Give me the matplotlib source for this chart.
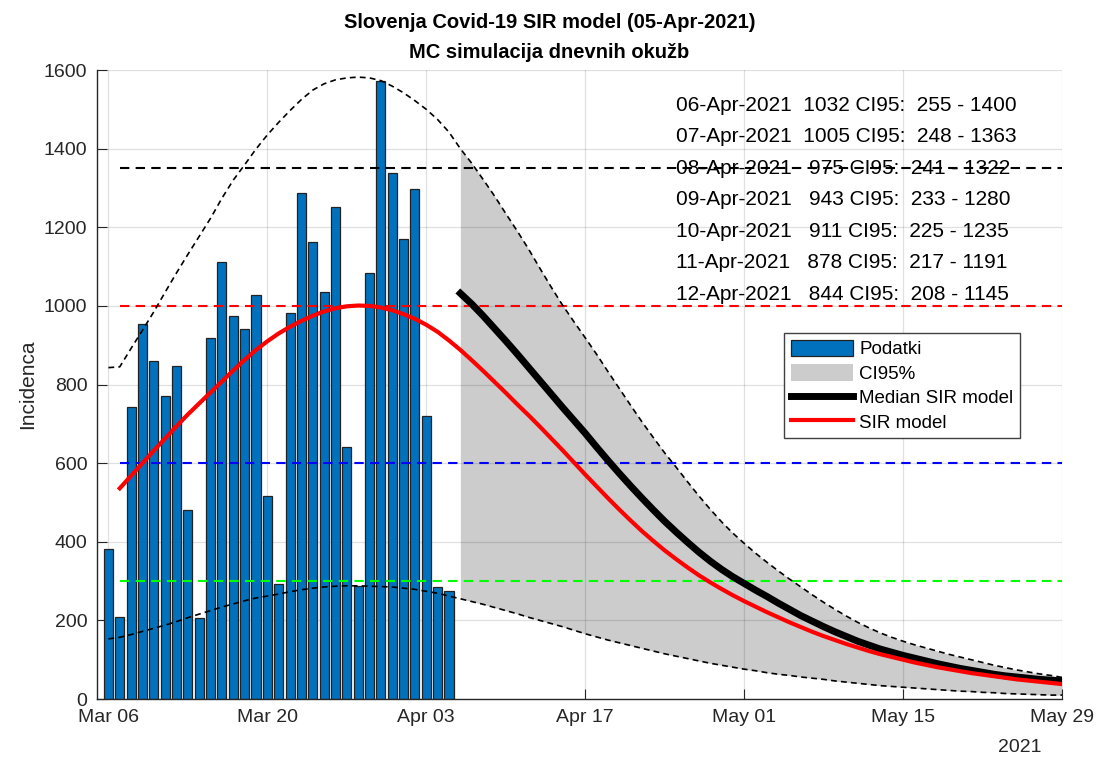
import datetime as dt

import matplotlib
matplotlib.use("Agg")
import matplotlib.pyplot as plt
import matplotlib.dates as mdates
from matplotlib.patches import Patch
from matplotlib.lines import Line2D

plt.rcParams["font.family"] = ["Liberation Sans", "DejaVu Sans"]

# dnevne potrjene okužbe, od 06-Mar-2021
cases_start = dt.date(2021, 3, 6)
cases = [382, 209, 743, 953, 859, 771, 847, 481, 205, 919, 1111, 974, 942, 1029, 517,
         292, 981, 1287, 1162, 1036, 1251, 641, 288, 1084, 1572, 1337, 1170, 1297, 720,
         284, 274]

# SIR model, od 07-Mar-2021
sir_start = dt.date(2021, 3, 7)
sir_model = [536, 568, 600, 632, 663, 694, 724, 752, 780, 808, 836, 863, 888, 910, 930,
             947, 962, 975, 986, 994, 999, 1001, 1000, 996, 989, 979, 967, 952, 934, 912,
             888, 862, 835, 807, 779, 750, 722, 693, 663, 633, 602, 571, 541, 511, 482,
             454, 427, 402, 378, 356, 335, 315, 297, 280, 264, 249, 235, 221, 208, 195,
             183, 171, 160, 150, 140, 131, 122, 114, 107, 100, 93, 87, 81, 76, 71,
             66, 62, 58, 54, 50, 47, 44, 41, 38]

# meje CI95 MC simulacije, od 06-Mar-2021
ci_start = dt.date(2021, 3, 6)
ci_upper = [843, 845, 892, 938, 985, 1035, 1084, 1131, 1177, 1223, 1274, 1320, 1359, 1399,
            1435, 1467, 1497, 1525, 1549, 1565, 1575, 1580, 1582, 1580, 1573, 1559, 1542,
            1522, 1500, 1474, 1442, 1400, 1363, 1322, 1280, 1235, 1191, 1145, 1096, 1048,
            1002, 960, 919, 877, 833, 790, 747, 705, 665, 626, 590, 553, 517, 483, 451,
            422, 396, 371, 348, 326, 305, 285, 265, 246, 228, 211, 195, 181, 168, 157,
            147, 138, 130, 122, 114, 107, 100, 93, 86, 80, 74, 69, 64, 60, 55]
ci_lower = [153, 157, 164, 172, 180, 188, 197, 207, 216, 225, 234, 242, 250, 257, 262,
            267, 273, 278, 282, 285, 287, 288, 288, 287, 286, 285, 282, 279, 274, 269,
            262, 255, 248, 241, 233, 225, 217, 208, 200, 192, 184, 175, 166, 158, 150,
            143, 136, 129, 122, 115, 109, 103, 97, 91, 86, 81, 76, 72, 67, 63,
            60, 56, 53, 50, 46, 43, 40, 37, 34, 32, 30, 28, 26, 24, 22,
            20, 19, 17, 16, 14, 13, 12, 11, 10, 10]

# mediana MC simulacije, od 06-Apr-2021
median_start = dt.date(2021, 4, 6)
median_sir = [1032, 1005, 975, 943, 911, 878, 844, 810, 776, 742, 709, 676, 641, 607, 574,
              542, 511, 481, 452, 425, 399, 374, 351, 330, 311, 294, 277, 261, 244, 228,
              212, 198, 184, 171, 159, 147, 137, 127, 119, 111, 104, 97, 90, 84, 78,
              73, 68, 63, 59, 56, 53, 50, 48, 46]

# pragovi
levels = [1350, 1000, 600, 300]
level_colors = ["black", "red", "blue", "#00ff00"]

n_rows = 7


def day_nums(start, n):
    return mdates.date2num([start + dt.timedelta(days=i) for i in range(n)])


fig = plt.figure(figsize=(10.99, 7.58), dpi=100)
ax = fig.add_axes([0.0883, 0.0778, 0.8781, 0.8298])

x_cases = day_nums(cases_start, len(cases))
x_sir = day_nums(sir_start, len(sir_model))
x_ci = day_nums(ci_start, len(ci_upper))
x_med = day_nums(median_start, len(median_sir))
k0 = (median_start - ci_start).days

ax.fill_between(x_ci[k0:], ci_lower[k0:], ci_upper[k0:], color="#cccccc",
                linewidth=0, zorder=0.3)
ax.bar(x_cases, cases, width=0.8, color="#0072bd", edgecolor="#222222",
       linewidth=0.9, zorder=1)

for lvl, col in zip(levels, level_colors):
    ax.plot([x_sir[0], x_sir[-1]], [lvl, lvl], color=col, linewidth=1.5,
            dashes=(4.5, 3), zorder=2)

ax.plot(x_ci, ci_upper, color="black", linewidth=1.2, dashes=(3.5, 2.5), zorder=2.5)
ax.plot(x_ci, ci_lower, color="black", linewidth=1.2, dashes=(3.5, 2.5), zorder=2.5)
ax.plot(x_med, median_sir, color="black", linewidth=5, zorder=3)
ax.plot(x_sir, sir_model, color="red", linewidth=3, zorder=3.2)

# napoved za prvih 7 dni
x_txt = mdates.date2num(dt.date(2021, 4, 25))
for i in range(n_rows):
    d = median_start + dt.timedelta(days=i)
    s = f"{d:%d-%b-%Y} {median_sir[i]:5d} CI95: {ci_lower[k0 + i]:4d} - {ci_upper[k0 + i]:4d}"
    ax.text(x_txt, 1496 - 80 * i, s, fontsize=15, ha="left", va="baseline", zorder=4)

ax.set_xlim(mdates.date2num(dt.date(2021, 3, 5)), x_ci[-1])
ax.set_ylim(0, 1600)
ax.set_yticks(range(0, 1601, 200))
ax.set_xticks(x_ci[::14])
ax.xaxis.set_major_formatter(mdates.DateFormatter("%b %d"))
ax.tick_params(direction="in", length=7, labelsize=14, colors="#262626", pad=7)
ax.set_ylabel("Incidenca", fontsize=15, color="#262626", labelpad=5)

ax.set_axisbelow(True)
ax.grid(True, color="black", alpha=0.12, linewidth=0.9)
for side in ("top", "right"):
    ax.spines[side].set_visible(False)
for side in ("left", "bottom"):
    ax.spines[side].set_color("#262626")
    ax.spines[side].set_linewidth(1.0)

handles = [
    Patch(facecolor="#0072bd", edgecolor="#222222", linewidth=0.9),
    Patch(facecolor="#cccccc", edgecolor="none"),
    Line2D([], [], color="black", linewidth=5),
    Line2D([], [], color="red", linewidth=3),
]
labels = ["Podatki", "CI95%", "Median SIR model", "SIR model"]
leg = ax.legend(handles, labels, loc="upper left", bbox_to_anchor=(0.712, 0.582),
                fontsize=13.5, fancybox=False, framealpha=1, edgecolor="#404040",
                handlelength=3.3, handleheight=1.0, handletextpad=0.35,
                labelspacing=0.3, borderpad=0.35, borderaxespad=0)
leg.get_frame().set_linewidth(1.0)
leg.set_zorder(5)

fig.text(0.5, 1 - 22 / 758, "Slovenja Covid-19 SIR model (05-Apr-2021)",
         fontsize=14.5, fontweight="bold", ha="center", va="center")
fig.text(0.5, 1 - 52 / 758, "MC simulacija dnevnih okužb",
         fontsize=14.5, fontweight="bold", ha="center", va="center")
fig.text(1020 / 1099, 1 - 748 / 758, "2021", fontsize=14, color="#262626",
         ha="center", va="center")

fig.savefig("out.png", dpi=100)
